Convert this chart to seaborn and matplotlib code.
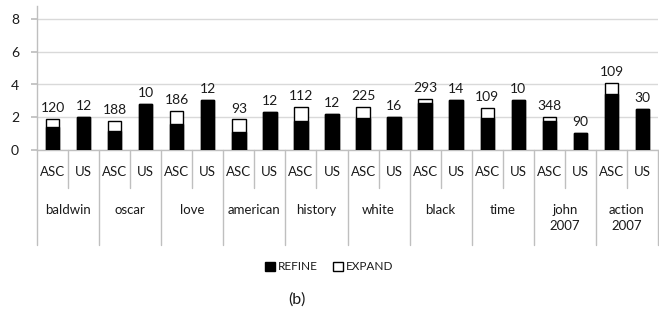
import matplotlib
matplotlib.use("Agg")
import matplotlib.pyplot as plt
import matplotlib.transforms as mtransforms
from matplotlib.patches import Patch
import seaborn as sns
import pandas as pd

# ---- data ----
groups = ["baldwin", "oscar", "love", "american", "history", "white",
          "black", "time", "john\n2007", "action\n2007"]
methods = ["ASC", "US"]
asc_refine = [1.42, 1.18, 1.57, 1.12, 1.79, 1.95, 2.89, 1.95, 1.75, 3.42]
asc_expand = [0.50, 0.61, 0.83, 0.75, 0.84, 0.68, 0.21, 0.61, 0.28, 0.65]
us_refine = [2.00, 2.79, 3.05, 2.34, 2.22, 2.02, 3.05, 3.05, 1.04, 2.52]
us_expand = [0, 0, 0, 0, 0, 0, 0, 0, 0, 0]
asc_counts = [120, 188, 186, 93, 112, 225, 293, 109, 348, 109]
us_counts = [12, 10, 12, 12, 12, 16, 14, 10, 90, 30]
yticks = [0, 2, 4, 6, 8]

rows = []
for i, g in enumerate(groups):
    rows.append(dict(slot=f"{i}-ASC", group=g, method="ASC",
                     refine=asc_refine[i], expand=asc_expand[i], count=asc_counts[i]))
    rows.append(dict(slot=f"{i}-US", group=g, method="US",
                     refine=us_refine[i], expand=us_expand[i], count=us_counts[i]))
df = pd.DataFrame(rows)
df["total"] = df["refine"] + df["expand"]
order = list(df["slot"])

sns.set_theme(style="white")
plt.rcParams["font.family"] = ["Lato", "DejaVu Sans"]
txt = "#1a1a1a"
grid_c = "#d9d9d9"
axis_c = "#bfbfbf"

W, H = 659, 313
fig = plt.figure(figsize=(W / 100, H / 100), dpi=100)
x0, x1 = 37, 658
ytop_px, y0_px = 5.9, 150
ax = fig.add_axes([x0 / W, (H - y0_px) / H, (x1 - x0) / W, (y0_px - ytop_px) / H])

sns.barplot(data=df, x="slot", y="total", order=order, color="white",
            edgecolor="black", linewidth=1, width=0.43, saturation=1,
            errorbar=None, ax=ax, zorder=3)
sns.barplot(data=df, x="slot", y="refine", order=order, color="black",
            edgecolor="black", linewidth=1, width=0.43, saturation=1,
            errorbar=None, ax=ax, zorder=4)

ax.bar_label(ax.containers[0], labels=[str(c) for c in df["count"]],
             padding=3.5, fontsize=10, color=txt)

ax.set_ylim(0, 8.8)
ax.set_xlim(-0.5, len(order) - 0.5)
ax.set_yticks(yticks)
ax.set_yticklabels([str(t) for t in yticks], fontsize=10, color=txt)
ax.yaxis.grid(True, color=grid_c, linewidth=1)
ax.set_axisbelow(True)
ax.tick_params(axis="y", length=4, color=axis_c, pad=9, left=True)
ax.tick_params(axis="x", length=0)
ax.set_xticks([])
ax.set_xlabel("")
ax.set_ylabel("")
for s in ["top", "right"]:
    ax.spines[s].set_visible(False)
ax.spines["left"].set_color(axis_c)
ax.spines["bottom"].set_color(axis_c)
ax.spines["left"].set_linewidth(1)
ax.spines["bottom"].set_linewidth(1)

# multi-level category axis
axh = y0_px - ytop_px
def ay(px):
    return -(px - y0_px) / axh

trans = mtransforms.blended_transform_factory(ax.transData, ax.transAxes)
for j, m in enumerate(df["method"]):
    ax.text(j, ay(172), m, transform=trans, ha="center", va="center",
            fontsize=9.5, color=txt)
    if m == "ASC":
        ax.plot([j + 0.5, j + 0.5], [0, ay(188)], transform=trans,
                color=axis_c, lw=1, clip_on=False)
for i, g in enumerate(groups):
    ax.text(2 * i + 0.5, ay(204), g, transform=trans, ha="center", va="top",
            fontsize=9.5, color=txt, linespacing=1.35)
for i in range(len(groups) + 1):
    ax.plot([2 * i - 0.5, 2 * i - 0.5], [0, ay(245)], transform=trans,
            color=axis_c, lw=1, clip_on=False)

handles = [Patch(facecolor="black", edgecolor="black", label="REFINE"),
           Patch(facecolor="white", edgecolor="black", label="EXPAND")]
leg = fig.legend(handles=handles, loc="center", bbox_to_anchor=(0.5, (H - 267) / H),
                 ncol=2, frameon=False, fontsize=8.5, handlelength=0.8,
                 handleheight=0.8, handletextpad=0.3, columnspacing=1.3)
for t in leg.get_texts():
    t.set_color(txt)

fig.text(297 / W, (H - 300) / H, "(b)", ha="center", va="center",
         fontsize=11.5, color=txt)

fig.savefig("out.png", dpi=100)
